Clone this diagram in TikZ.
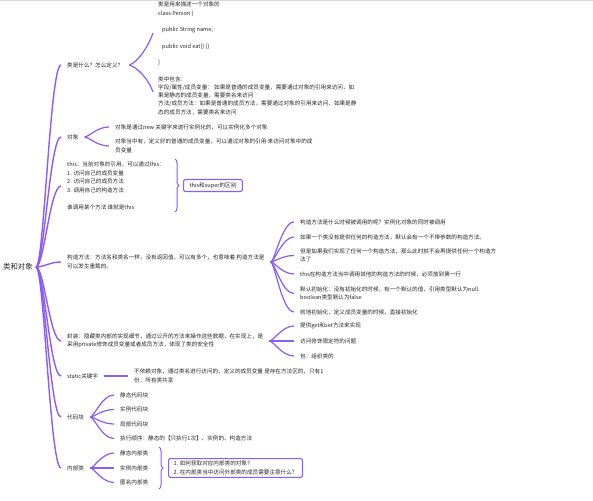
\documentclass[tikz,border=0pt]{standalone}
\usepackage{fontspec}
\setmainfont{Noto Sans CJK SC}
\usetikzlibrary{decorations.pathreplacing}

\definecolor{branch}{RGB}{139,92,246}
\definecolor{ink}{RGB}{38,38,38}

\newcommand*{\lx}{61}
\newcommand*{\gap}{8.5pt}

\begin{document}
\begin{tikzpicture}
[
	x=1pt,
	y=-1pt,
	txt/.style={anchor=west,inner xsep=6pt,inner ysep=1pt,align=left,text=ink,font=\fontsize{5.6}{8.5}\selectfont},
	rootbox/.style={anchor=west,inner xsep=3pt,text=ink,font=\fontsize{7.4}{9}\selectfont},
	boxed/.style={txt,draw=branch,line width=1.1pt,rounded corners=2pt,inner ysep=3pt},
	conn/.style={draw=branch,line width=1.2pt},
	trunk/.style={draw=branch,line width=1.4pt},
	brc/.style={draw=branch,line width=1pt,decorate,decoration={brace,amplitude=4pt}}
]

	\useasboundingbox (0,0) rectangle (593,500);
	\draw[black!15,line width=1.5pt] (0,0.75) -- (593,0.75);

	% root
	\node[rootbox] (root) at (0,267) {类和对象};

	% first level
	\node[txt] (c1) at (\lx,65) {类是什么？怎么定义？};
	\node[txt] (c2) at (\lx,137) {对象};
	\node[txt] (c3) at (\lx,186) {this：当前对象的引用，可以通过this：\\
		1. 访问自己的成员变量\\
		2. 访问自己的成员方法\\
		3. 调用自己的构造方法\\[\gap]
		谁调用某个方法 谁就是this};
	\node[txt] (c4) at (\lx,262) {构造方法：方法名和类名一样，没有返回值，可以有多个，也意味着 构造方法是\\
		可以发生重载的。};
	\node[txt] (c5) at (\lx,341) {封装：隐藏类内部的实现细节，通过公开的方法来操作这些数据，在实现上，是\\
		采用private修饰成员变量或者成员方法，体现了类的安全性};
	\node[txt] (c6) at (\lx,376) {static关键字};
	\node[txt] (c7) at (\lx,417) {代码块};
	\node[txt] (c8) at (\lx,468) {内部类};

	\foreach \c in {c1,c2,c3,c4,c5,c6,c7,c8}
		\draw[trunk] (root.east) .. controls +(8,0) and +(-11,0) .. (\c.west);

	% class definition
	\node[txt,anchor=north west,font=\fontsize{5.6}{8.25}\selectfont] (def) at (152,1) {类是用来描述一个对象的\\
		class Person \{\\[8.25pt]
		\hspace*{4pt}public String name;\\[8.25pt]
		\hspace*{4pt}public void eat() \{\}\\[8.25pt]
		\}\\[8.25pt]
		类中包含：\\
		字段/属性/成员变量： 如果是普通的成员变量，需要通过对象的引用来访问，如\\
		果是静态的成员变量，需要类名来访问\\
		方法/成员方法：如果是普通的成员方法，需要通过对象的引用来访问，如果是静\\
		态的成员方法，需要类名来访问};
	\coordinate (deftop) at (153,33);
	\coordinate (defbot) at (153,92);
	\draw[conn] (c1.east) .. controls +(9,-3) and +(-4,12) .. (deftop);
	\draw[conn] (c1.east) .. controls +(9,3) and +(-4,-12) .. (defbot);

	% object
	\node[txt] (c2a) at (109,127) {对象是通过new 关键字来进行实例化的，可以实例化多个对象};
	\node[txt] (c2b) at (109,146) {对象当中有，定义好的普通的成员变量，可以通过对象的引用 来访问对象中的成\\
		员变量};
	\foreach \k in {c2a,c2b}
		\draw[conn] (c2.east) .. controls +(4,0) and +(-12,0) .. (\k.west);

	% this
	\coordinate (thistop) at (175,159);
	\coordinate (thisbot) at (175,212);
	\draw[brc] (thistop) -- (thisbot);
	\node[boxed] (super) at (183,185.5) {this和super的区别};

	% constructor
	\node[txt] (c4a) at (294,222) {构造方法是什么时候被调用的呢？实例化对象的同时被调用};
	\node[txt] (c4b) at (294,237) {如果一个类没有提供任何的构造方法，默认会有一个不带参数的构造方法。};
	\node[txt] (c4c) at (294,255.5) {但是如果我们实现了任何一个构造方法，那么此时就不会再提供任何一个构造方\\
		法了};
	\node[txt] (c4d) at (294,274) {this在构造方法当中调用其他的构造方法的时候，必须放到第一行};
	\node[txt] (c4e) at (294,293.5) {默认初始化：没有初始化的时候，有一个默认的值，引用类型默认为null.\\
		boolean类型默认为false};
	\node[txt] (c4f) at (294,312) {就地初始化，定义成员变量的时候，直接初始化};
	\foreach \k in {c4a,c4b,c4c,c4d,c4e,c4f}
		\draw[conn] (c4.east) .. controls +(4,0) and +(-12,0) .. (\k.west);

	% encapsulation
	\node[txt] (c5a) at (294,326) {提供get和set方法来实现};
	\node[txt] (c5b) at (294,341) {访问修饰限定符的问题};
	\node[txt] (c5c) at (294,356) {包：组织类的};
	\foreach \k in {c5a,c5b,c5c}
		\draw[conn] (c5.east) .. controls +(4,0) and +(-12,0) .. (\k.west);

	% static
	\node[txt] (c6a) at (128,376) {不依赖对象，通过类名进行访问的，定义的成员变量 是存在方法区的，只有1\\
		份，所有类共享};
	\draw[conn] (c6.east) -- (c6a.west);

	% code blocks
	\node[txt] (c7a) at (114,395) {静态代码块};
	\node[txt] (c7b) at (114,409.5) {实例代码块};
	\node[txt] (c7c) at (114,424) {局部代码块};
	\node[txt] (c7d) at (114,438.5) {执行顺序：静态的【只执行1次】、实例的、构造方法};
	\foreach \k in {c7a,c7b,c7c,c7d}
		\draw[conn] (c7.east) .. controls +(4,0) and +(-12,0) .. (\k.west);

	% inner classes
	\node[txt] (c8a) at (114,453) {静态内部类};
	\node[txt] (c8b) at (114,468) {实例内部类};
	\node[txt] (c8c) at (114,482.5) {匿名内部类};
	\foreach \k in {c8a,c8b,c8c}
		\draw[conn] (c8.east) .. controls +(4,0) and +(-12,0) .. (\k.west);

	\coordinate (innertop) at (159,447);
	\coordinate (innerbot) at (159,489);
	\draw[brc] (innertop) -- (innerbot);
	\node[boxed,inner xsep=5pt,inner ysep=2.5pt] (ask) at (168,468) {1. 如何获取对应内部类的对象？\\
		2. 在内部类当中访问外部类的成员需要注意什么？};

\end{tikzpicture}
\end{document}
